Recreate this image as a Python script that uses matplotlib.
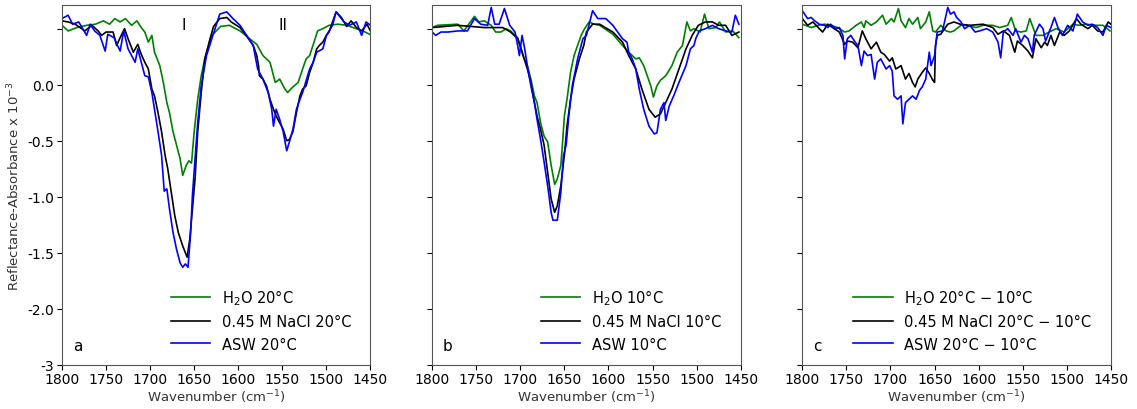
import matplotlib
matplotlib.use('Agg')
import matplotlib.pyplot as plt

# panel a: 20 C spectra
a_h2o_x = [1800, 1793, 1783, 1772, 1762, 1753, 1746, 1740, 1734, 1728, 1721, 1715, 1710, 1706, 1702, 1698, 1695,
           1689, 1685, 1681, 1678, 1674, 1670, 1666, 1663, 1659, 1656, 1653, 1650, 1646, 1642, 1638, 1630, 1620,
           1610, 1598, 1587, 1579, 1572, 1564, 1558, 1553, 1547, 1544, 1538, 1532, 1527, 1523, 1519, 1514, 1510,
           1504, 1497, 1487, 1477, 1466, 1456, 1451]
a_h2o_y = [0.53, 0.48, 0.51, 0.53, 0.54, 0.57, 0.54, 0.59, 0.56, 0.59, 0.53, 0.57, 0.51, 0.47, 0.38, 0.44, 0.29,
           0.17, 0.02, -0.16, -0.25, -0.42, -0.54, -0.66, -0.81, -0.72, -0.68, -0.70, -0.42, -0.13, 0.08, 0.23, 0.44,
           0.52, 0.53, 0.48, 0.41, 0.36, 0.26, 0.20, 0.02, 0.05, -0.04, -0.07, -0.02, 0.02, 0.14, 0.23, 0.26, 0.38,
           0.48, 0.50, 0.53, 0.54, 0.53, 0.50, 0.47, 0.45]
a_nacl_x = [1800, 1793, 1785, 1774, 1766, 1759, 1755, 1750, 1742, 1738, 1734, 1729, 1725, 1719, 1714, 1710, 1706,
            1702, 1698, 1695, 1691, 1687, 1683, 1680, 1676, 1672, 1668, 1663, 1658, 1655, 1653, 1649, 1646, 1642,
            1638, 1632, 1628, 1621, 1613, 1608, 1598, 1591, 1583, 1579, 1577, 1576, 1572, 1568, 1564, 1560, 1557,
            1553, 1549, 1545, 1542, 1538, 1534, 1530, 1527, 1523, 1519, 1515, 1511, 1508, 1504, 1500, 1497, 1493,
            1489, 1483, 1477, 1472, 1466, 1460, 1454, 1450]
a_nacl_y = [0.57, 0.56, 0.54, 0.48, 0.53, 0.48, 0.44, 0.47, 0.47, 0.35, 0.42, 0.50, 0.41, 0.29, 0.36, 0.27, 0.20,
            0.14, -0.04, -0.10, -0.25, -0.42, -0.63, -0.75, -0.96, -1.17, -1.32, -1.44, -1.54, -1.38, -1.20, -0.84,
            -0.42, -0.07, 0.23, 0.41, 0.52, 0.59, 0.60, 0.56, 0.51, 0.44, 0.35, 0.26, 0.17, 0.08, 0.05, -0.01, -0.13,
            -0.22, -0.28, -0.34, -0.40, -0.50, -0.49, -0.42, -0.25, -0.10, -0.04, -0.01, 0.11, 0.20, 0.32, 0.35, 0.38,
            0.44, 0.47, 0.56, 0.65, 0.60, 0.52, 0.57, 0.51, 0.48, 0.54, 0.48]
a_asw_x = [1800, 1793, 1788, 1781, 1772, 1768, 1763, 1757, 1751, 1748, 1741, 1734, 1730, 1725, 1717, 1714, 1706,
           1702, 1698, 1695, 1691, 1687, 1684, 1681, 1678, 1674, 1670, 1666, 1663, 1660, 1657, 1654, 1652, 1649,
           1646, 1642, 1636, 1630, 1621, 1613, 1606, 1598, 1583, 1578, 1572, 1566, 1562, 1560, 1557, 1553, 1549,
           1545, 1542, 1538, 1534, 1530, 1527, 1519, 1515, 1511, 1504, 1500, 1493, 1489, 1480, 1474, 1466, 1460,
           1455, 1450]
a_asw_y = [0.59, 0.62, 0.54, 0.56, 0.44, 0.54, 0.48, 0.44, 0.30, 0.45, 0.42, 0.30, 0.48, 0.32, 0.20, 0.32, 0.08,
           0.07, -0.07, -0.22, -0.42, -0.63, -0.95, -0.93, -1.11, -1.32, -1.47, -1.59, -1.63, -1.60, -1.63, -1.32,
           -0.99, -0.66, -0.34, -0.01, 0.26, 0.41, 0.63, 0.65, 0.59, 0.53, 0.35, 0.14, 0.05, -0.07, -0.22, -0.37,
           -0.22, -0.31, -0.42, -0.59, -0.51, -0.40, -0.22, -0.13, -0.07, 0.14, 0.20, 0.29, 0.32, 0.44, 0.53, 0.65,
           0.56, 0.53, 0.56, 0.44, 0.56, 0.53]

# panel b: 10 C spectra
b_h2o_x = [1800, 1794, 1771, 1764, 1752, 1747, 1741, 1733, 1728, 1722, 1716, 1711, 1703, 1700, 1696, 1692, 1688,
           1684, 1681, 1677, 1673, 1669, 1665, 1661, 1658, 1654, 1652, 1650, 1647, 1643, 1639, 1635, 1631, 1627,
           1622, 1616, 1610, 1595, 1584, 1577, 1569, 1565, 1560, 1556, 1552, 1549, 1545, 1541, 1535, 1528, 1522,
           1516, 1511, 1507, 1503, 1496, 1491, 1486, 1478, 1474, 1467, 1459, 1452]
b_h2o_y = [0.51, 0.53, 0.54, 0.48, 0.61, 0.56, 0.57, 0.53, 0.47, 0.47, 0.50, 0.48, 0.42, 0.35, 0.24, 0.17, 0.05,
           -0.10, -0.16, -0.34, -0.46, -0.51, -0.72, -0.89, -0.84, -0.72, -0.51, -0.28, -0.13, 0.11, 0.26, 0.35,
           0.44, 0.50, 0.56, 0.54, 0.53, 0.45, 0.35, 0.29, 0.23, 0.24, 0.17, 0.08, -0.01, -0.11, -0.01, 0.04, 0.08,
           0.17, 0.29, 0.35, 0.56, 0.48, 0.50, 0.47, 0.63, 0.50, 0.51, 0.56, 0.47, 0.48, 0.42]
b_nacl_x = [1800, 1771, 1741, 1720, 1711, 1703, 1698, 1692, 1688, 1684, 1681, 1677, 1673, 1669, 1665, 1661, 1658,
            1654, 1650, 1647, 1643, 1639, 1633, 1628, 1625, 1618, 1610, 1595, 1584, 1577, 1569, 1562, 1554, 1547,
            1541, 1535, 1528, 1520, 1512, 1505, 1498, 1490, 1482, 1475, 1467, 1460, 1452]
b_nacl_y = [0.51, 0.53, 0.51, 0.51, 0.47, 0.41, 0.29, 0.14, 0.02, -0.16, -0.28, -0.40, -0.54, -0.78, -1.02, -1.14,
            -1.08, -0.90, -0.63, -0.37, -0.13, 0.05, 0.23, 0.35, 0.47, 0.54, 0.54, 0.47, 0.38, 0.26, 0.14, -0.04,
            -0.22, -0.29, -0.26, -0.16, -0.04, 0.14, 0.32, 0.44, 0.53, 0.56, 0.56, 0.53, 0.53, 0.44, 0.47]
b_asw_x = [1800, 1796, 1790, 1782, 1771, 1760, 1752, 1745, 1737, 1733, 1729, 1724, 1718, 1712, 1706, 1703, 1701,
           1698, 1695, 1692, 1688, 1684, 1681, 1677, 1673, 1669, 1665, 1663, 1658, 1654, 1651, 1648, 1645, 1641,
           1635, 1629, 1625, 1618, 1612, 1603, 1595, 1584, 1579, 1577, 1573, 1569, 1565, 1560, 1554, 1548, 1545,
           1541, 1537, 1535, 1531, 1526, 1520, 1512, 1507, 1503, 1501, 1497, 1490, 1482, 1475, 1467, 1460, 1456,
           1452]
b_asw_y = [0.47, 0.44, 0.47, 0.47, 0.48, 0.48, 0.59, 0.54, 0.53, 0.69, 0.54, 0.54, 0.68, 0.53, 0.47, 0.35, 0.26,
           0.44, 0.32, 0.17, -0.01, -0.16, -0.31, -0.49, -0.69, -0.90, -1.14, -1.21, -1.21, -0.96, -0.63, -0.54,
           -0.28, -0.01, 0.23, 0.41, 0.44, 0.66, 0.59, 0.59, 0.53, 0.41, 0.38, 0.29, 0.23, 0.14, -0.04, -0.22, -0.37,
           -0.44, -0.43, -0.22, -0.16, -0.32, -0.19, -0.10, 0.02, 0.17, 0.32, 0.35, 0.41, 0.48, 0.50, 0.53, 0.50,
           0.48, 0.47, 0.62, 0.54]

# panel c: 20 C minus 10 C difference spectra
c_h2o_x = [1800, 1790, 1782, 1775, 1768, 1760, 1752, 1747, 1739, 1733, 1730, 1728, 1722, 1716, 1709, 1705, 1699,
           1696, 1691, 1688, 1683, 1679, 1675, 1669, 1666, 1660, 1656, 1652, 1649, 1643, 1637, 1632, 1628, 1625,
           1620, 1614, 1603, 1595, 1584, 1576, 1567, 1563, 1558, 1552, 1546, 1542, 1535, 1527, 1520, 1512, 1503,
           1493, 1486, 1478, 1467, 1459, 1451]
c_h2o_y = [0.54, 0.51, 0.53, 0.54, 0.53, 0.51, 0.47, 0.48, 0.53, 0.56, 0.51, 0.57, 0.53, 0.56, 0.62, 0.54, 0.59,
           0.56, 0.68, 0.57, 0.51, 0.59, 0.54, 0.60, 0.50, 0.56, 0.65, 0.48, 0.47, 0.53, 0.48, 0.47, 0.48, 0.50,
           0.53, 0.53, 0.51, 0.53, 0.53, 0.51, 0.53, 0.60, 0.48, 0.47, 0.48, 0.59, 0.44, 0.44, 0.47, 0.50, 0.47,
           0.54, 0.53, 0.54, 0.53, 0.53, 0.48]
c_nacl_x = [1800, 1794, 1788, 1782, 1777, 1771, 1764, 1758, 1752, 1749, 1743, 1737, 1732, 1728, 1722, 1716, 1711,
            1707, 1701, 1698, 1694, 1688, 1683, 1679, 1675, 1672, 1669, 1664, 1660, 1656, 1652, 1650, 1649, 1647,
            1643, 1635, 1628, 1621, 1610, 1595, 1584, 1578, 1572, 1565, 1559, 1556, 1550, 1544, 1539, 1535, 1529,
            1525, 1522, 1518, 1514, 1508, 1503, 1497, 1489, 1484, 1476, 1471, 1465, 1459, 1453, 1450]
c_nacl_y = [0.59, 0.53, 0.56, 0.51, 0.47, 0.54, 0.50, 0.47, 0.36, 0.39, 0.38, 0.33, 0.48, 0.41, 0.32, 0.38, 0.29,
            0.27, 0.21, 0.24, 0.14, 0.17, 0.05, 0.10, 0.02, -0.02, 0.05, 0.11, 0.15, 0.10, 0.04, 0.02, 0.35, 0.44,
            0.45, 0.54, 0.56, 0.54, 0.53, 0.54, 0.51, 0.45, 0.48, 0.44, 0.29, 0.39, 0.35, 0.30, 0.24, 0.41, 0.33,
            0.38, 0.35, 0.44, 0.35, 0.47, 0.44, 0.48, 0.59, 0.54, 0.50, 0.53, 0.48, 0.47, 0.56, 0.54]
c_asw_x = [1800, 1794, 1790, 1786, 1781, 1775, 1771, 1768, 1762, 1758, 1754, 1752, 1749, 1745, 1741, 1737, 1733,
           1730, 1726, 1722, 1718, 1715, 1711, 1705, 1701, 1698, 1696, 1692, 1688, 1686, 1683, 1679, 1675, 1671,
           1667, 1664, 1660, 1656, 1654, 1650, 1647, 1641, 1635, 1632, 1628, 1625, 1620, 1616, 1610, 1604, 1599,
           1591, 1584, 1578, 1575, 1572, 1567, 1561, 1558, 1552, 1548, 1544, 1539, 1537, 1531, 1527, 1524, 1518,
           1514, 1510, 1505, 1499, 1493, 1488, 1482, 1476, 1471, 1465, 1459, 1455, 1450]
c_asw_y = [0.66, 0.59, 0.60, 0.57, 0.54, 0.53, 0.51, 0.54, 0.50, 0.51, 0.44, 0.23, 0.41, 0.44, 0.39, 0.35, 0.17,
           0.30, 0.26, 0.27, 0.05, 0.20, 0.23, 0.14, 0.17, 0.12, -0.10, -0.13, -0.10, -0.35, -0.16, -0.13, -0.10,
           -0.13, -0.05, -0.02, 0.05, 0.29, 0.17, 0.26, 0.47, 0.48, 0.69, 0.63, 0.65, 0.60, 0.56, 0.50, 0.53, 0.47,
           0.48, 0.50, 0.47, 0.38, 0.24, 0.47, 0.50, 0.44, 0.50, 0.38, 0.44, 0.41, 0.29, 0.44, 0.54, 0.50, 0.39,
           0.51, 0.60, 0.51, 0.44, 0.53, 0.48, 0.63, 0.56, 0.53, 0.54, 0.51, 0.44, 0.53, 0.51]

panels = [
    ('a', [(a_h2o_x, a_h2o_y, 'H$_2$O 20°C'),
           (a_nacl_x, a_nacl_y, '0.45 M NaCl 20°C'),
           (a_asw_x, a_asw_y, 'ASW 20°C')]),
    ('b', [(b_h2o_x, b_h2o_y, 'H$_2$O 10°C'),
           (b_nacl_x, b_nacl_y, '0.45 M NaCl 10°C'),
           (b_asw_x, b_asw_y, 'ASW 10°C')]),
    ('c', [(c_h2o_x, c_h2o_y, 'H$_2$O 20°C \u2212 10°C'),
           (c_nacl_x, c_nacl_y, '0.45 M NaCl 20°C \u2212 10°C'),
           (c_asw_x, c_asw_y, 'ASW 20°C \u2212 10°C')]),
]
colors = ['green', 'black', 'blue']

yticks = [-2.5, -2.0, -1.5, -1.0, -0.5, 0.0, 0.5]
yticklabels = ['-3', '-2.0', '-1.5', '-1.0', '-0.5', '0.0', '']
xticks = [1800, 1750, 1700, 1650, 1600, 1550, 1500, 1450]

fig, axes = plt.subplots(1, 3, figsize=(11.37, 4.10), dpi=100, sharey=True)
fig.subplots_adjust(left=0.0545, right=0.977, top=0.985, bottom=0.108, wspace=0.2)

for ax, (tag, series) in zip(axes, panels):
    for (x, y, lab), c in zip(series, colors):
        ax.plot(x, y, color=c, lw=1.2, label=lab)
    ax.set_xlim(1800, 1450)
    ax.set_ylim(-2.5, 0.71)
    ax.set_xticks(xticks)
    ax.tick_params(labelsize=10, pad=2)
    ax.set_xlabel('Wavenumber (cm$^{-1}$)', fontsize=9.5, color='#333333', labelpad=1)
    ax.text(0.035, 0.04, tag, transform=ax.transAxes, fontsize=11)
    ax.legend(loc='lower right', frameon=False, fontsize=10.5, bbox_to_anchor=(0.98, 0.0), handlelength=2.7)
    for s in ax.spines.values():
        s.set_color('#555555')

axes[0].set_yticks(yticks)
axes[0].set_yticklabels(yticklabels)
axes[0].set_ylabel('Reflectance-Absorbance x 10$^{-3}$', fontsize=9.5, color='#333333')
axes[0].text(1662, 0.54, 'I', ha='center', va='center', fontsize=11)
axes[0].text(1549, 0.54, 'II', ha='center', va='center', fontsize=11)

fig.savefig('out.png', dpi=100)
